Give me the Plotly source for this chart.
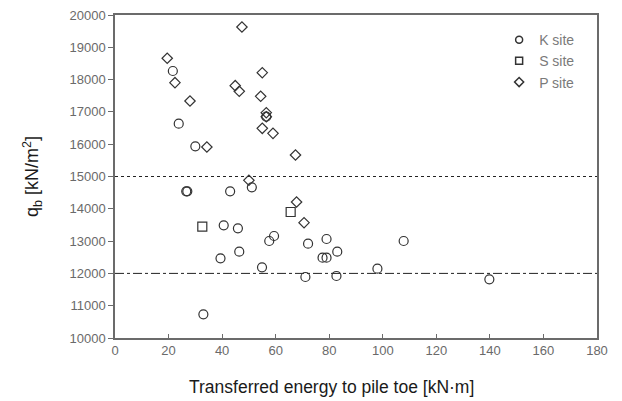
import plotly.graph_objects as go

# Transferred energy to pile toe [kN·m] and base resistance q_b [kN/m²]
k_energy = [21.6, 23.8, 30.0, 56.5, 51.1, 26.6, 27.0, 43.0, 40.6, 45.9, 39.4, 46.4,
            54.9, 57.6, 59.4, 72.1, 71.1, 79.0, 77.5, 79.0, 83.0, 82.7, 33.0,
            98.0, 107.8, 139.8]
k_qb = [18266, 16635, 15935, 16851, 14666, 14542, 14542, 14542, 13489, 13396, 12467, 12672,
        12189, 13003, 13158, 12920, 11889, 13065, 12487, 12487, 12672, 11920, 10734,
        12146, 13003, 11817]

s_energy = [32.6, 65.6]
s_qb = [13446, 13901]

p_energy = [19.5, 22.4, 28.0, 34.3, 47.4, 44.9, 46.4, 55.0, 54.4, 56.5, 56.5, 55.0,
            59.0, 67.4, 50.0, 67.8, 70.6]
p_qb = [18660, 17905, 17337, 15913, 19628, 17812, 17637, 18214, 17483, 16976, 16850, 16491,
        16336, 15666, 14882, 14211, 13570]

upper_limit = 15000
lower_limit = 12000

x_ticks = list(range(0, 181, 20))
y_ticks = list(range(10000, 20001, 1000))

mark_col = "#333333"
axis_col = "#6b6b6b"
font_family = "Liberation Sans, Arial, sans-serif"
tick_font = dict(family=font_family, size=13, color="#6a6a6a")

series = [
    ("K site", k_energy, k_qb, "circle-open", 9, 7),
    ("S site", s_energy, s_qb, "square-open", 9, 7),
    ("P site", p_energy, p_qb, "diamond-open", 8, 7),
]

fig = go.Figure()
for name, xs, ys, sym, size, legend_size in series:
    fig.add_trace(go.Scatter(
        x=xs, y=ys, mode="markers", name=name, showlegend=False, legendgroup=name,
        marker=dict(symbol=sym, size=size, color=mark_col, line=dict(width=1.2, color=mark_col)),
    ))
for name, xs, ys, sym, size, legend_size in series:
    # compact legend entries with smaller symbols
    fig.add_trace(go.Scatter(
        x=[None], y=[None], mode="markers", name=name, legendgroup=name,
        marker=dict(symbol=sym, size=legend_size, color=mark_col, line=dict(width=1.5, color=mark_col)),
    ))

fig.add_hline(y=upper_limit, line=dict(color="#222222", width=1, dash="dot"), layer="below")
fig.add_hline(y=lower_limit, line=dict(color="#222222", width=1, dash="dashdot"), layer="below")

fig.add_annotation(
    text="Transferred energy to pile toe [kN·m]", xref="paper", yref="paper",
    x=0.45, y=-0.152, xanchor="center", yanchor="middle", showarrow=False,
    font=dict(family=font_family, size=17.5, color="#1a1a1a"),
)

fig.update_layout(
    width=622, height=401,
    margin=dict(l=115, r=25, t=15, b=63, autoexpand=False),
    paper_bgcolor="white", plot_bgcolor="white",
    font=dict(family=font_family),
    showlegend=True,
    legend=dict(x=0.965, y=0.972, xanchor="right", yanchor="top",
                bgcolor="rgba(0,0,0,0)", font=dict(size=14, color="#7a7a7a"),
                itemwidth=30, tracegroupgap=0),
    xaxis=dict(
        range=[0, 180], tickvals=x_ticks, ticktext=[str(v) for v in x_ticks],
        showgrid=False, zeroline=False, showline=True, linecolor=axis_col, linewidth=1.5,
        mirror=True, ticks="inside", ticklen=4, tickcolor=axis_col, tickfont=tick_font,
    ),
    yaxis=dict(
        range=[10000, 20000], tickvals=y_ticks, ticktext=[str(v) for v in y_ticks],
        showgrid=False, zeroline=False, showline=True, linecolor=axis_col, linewidth=1.5,
        mirror=True, ticks="outside", ticklen=5, tickcolor=axis_col, tickfont=tick_font,
        title=dict(text="q<sub>b</sub> [kN/m<sup>2</sup>]", standoff=26,
                   font=dict(family=font_family, size=18, color="#1a1a1a")),
    ),
)

fig.write_html("out.html")
